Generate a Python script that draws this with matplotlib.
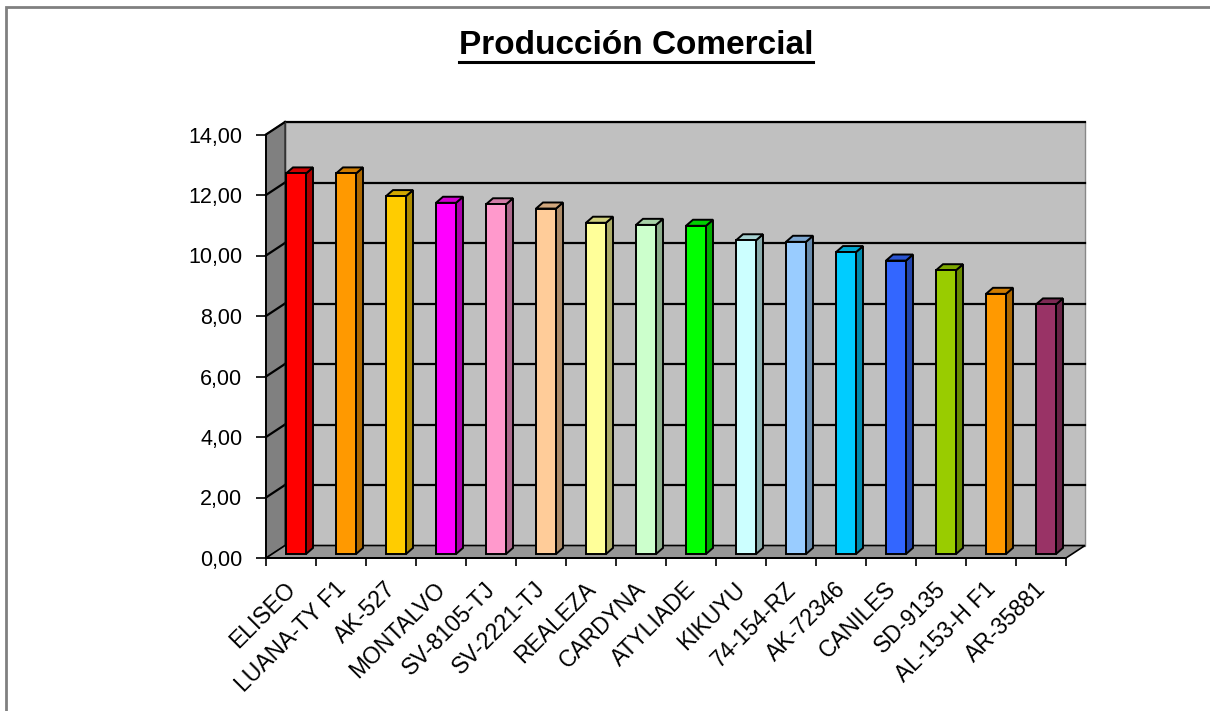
import matplotlib
matplotlib.use("Agg")
import matplotlib.pyplot as plt
from matplotlib.patches import Polygon, Rectangle
from matplotlib.lines import Line2D
from matplotlib import colors as mcolors
import numpy as np

plt.rcParams['font.family'] = ['Liberation Sans', 'DejaVu Sans']

variedades = ["ELISEO", "LUANA-TY F1", "AK-527", "MONTALVO", "SV-8105-TJ",
              "SV-2221-TJ", "REALEZA", "CARDYNA", "ATYLIADE", "KIKUYU",
              "74-154-RZ", "AK-72346", "CANILES", "SD-9135", "AL-153-H F1",
              "AR-35881"]
produccion = [12.58, 12.58, 11.83, 11.61, 11.56, 11.42, 10.95, 10.88,
              10.85, 10.37, 10.32, 9.98, 9.70, 9.38, 8.60, 8.25]
colores = ["#FF0000", "#FF9900", "#FFCC00", "#FF00FF", "#FF99CC", "#FFCC99",
           "#FFFF99", "#CCFFCC", "#00FF00", "#CCFFFF", "#99CCFF", "#00CCFF",
           "#3366FF", "#99CC00", "#FF9900", "#993366"]
yticks = [0, 2, 4, 6, 8, 10, 12, 14]

# fake 3d geometry (data units)
wall_dx, wall_dy = 0.38, 0.413      # depth of floor / back wall
bar_dx, bar_dy = 0.14, 0.2          # depth of each bar
bar_x0, bar_w, bar_base = -0.1, 0.4, 0.132
n = len(variedades)
x_lo, x_hi = -0.5, n - 0.5
ymax = 14


def shade(c, f):
    r, g, b = mcolors.to_rgb(c)
    return (r * f, g * f, b * f)


fig = plt.figure(figsize=(12.1, 7.11), dpi=100)
W, H = 1210, 711
ax = fig.add_axes([266 / W, (H - 558) / H, 800 / W, 423.5 / H])
ax.set_xlim(x_lo, x_hi)
ax.set_ylim(0, ymax)
ax.patch.set_alpha(0)

# walls
back = Polygon([(x_lo + wall_dx, wall_dy), (x_hi + wall_dx, wall_dy),
                (x_hi + wall_dx, ymax + wall_dy), (x_lo + wall_dx, ymax + wall_dy)],
               closed=True, facecolor="#C0C0C0", edgecolor="#888888", lw=1, zorder=0.5,
               clip_on=False)
ax.add_patch(back)
side = Polygon([(x_lo, 0), (x_lo + wall_dx, wall_dy), (x_lo + wall_dx, ymax + wall_dy),
                (x_lo, ymax)], closed=True, facecolor="#808080", edgecolor="#333333",
               lw=1, zorder=0.6, clip_on=False)
ax.add_patch(side)

# gridlines on back and side wall
for v in yticks[1:]:
    ax.plot([x_lo + wall_dx, x_hi + wall_dx], [v + wall_dy, v + wall_dy],
            color="black", lw=1.6, zorder=0.8, clip_on=False)
    ax.plot([x_lo, x_lo + wall_dx], [v, v + wall_dy],
            color="black", lw=1.6, zorder=0.8, clip_on=False)
ax.plot([x_lo + wall_dx, x_lo + wall_dx], [wall_dy, ymax + wall_dy],
        color="#333333", lw=1, zorder=0.9, clip_on=False)

floor = Polygon([(x_lo, 0), (x_hi, 0), (x_hi + wall_dx, wall_dy), (x_lo + wall_dx, wall_dy)],
                closed=True, facecolor="#969696", edgecolor="black", lw=1.2, zorder=1,
                clip_on=False)
ax.add_patch(floor)

# bars
for i, (v, c) in enumerate(zip(produccion, colores)):
    x0 = i + bar_x0
    x1 = x0 + bar_w
    top = bar_base + v
    ax.bar(x0, v, width=bar_w, bottom=bar_base, align="edge", color=c,
           edgecolor="black", lw=1.4, zorder=3 + i * 0.01, clip_on=False)
    ax.add_patch(Polygon([(x1, bar_base), (x1 + bar_dx, bar_base + bar_dy),
                          (x1 + bar_dx, top + bar_dy), (x1, top)], closed=True,
                         facecolor=shade(c, 0.68), edgecolor="black", lw=1.4,
                         zorder=2.9 + i * 0.01, clip_on=False))
    ax.add_patch(Polygon([(x0, top), (x1, top), (x1 + bar_dx, top + bar_dy),
                          (x0 + bar_dx, top + bar_dy)], closed=True,
                         facecolor=shade(c, 0.82), edgecolor="black", lw=1.4,
                         zorder=2.9 + i * 0.01, clip_on=False))

# axes
for s in ["top", "right"]:
    ax.spines[s].set_visible(False)
ax.spines["left"].set_linewidth(1.4)
ax.spines["bottom"].set_linewidth(1.4)
ax.spines["left"].set_zorder(5)
ax.spines["bottom"].set_zorder(5)

ax.set_yticks(yticks)
ax.set_yticklabels([("%.2f" % t).replace(".", ",") for t in yticks], fontsize=15.5)
ax.tick_params(axis="y", direction="out", length=7, width=1.2, pad=10)

ax.set_xticks(np.arange(n) + 0.02)
ax.set_xticklabels(variedades, fontsize=16.5, rotation=45, ha="right", va="center",
                   rotation_mode="anchor")
ax.tick_params(axis="x", which="major", length=0, pad=20)
ax.set_xticks(np.arange(n + 1) - 0.5, minor=True)
ax.tick_params(axis="x", which="minor", direction="out", length=6, width=1.2)

# title, underlined
t = fig.text(636 / W, 1 - 45 / H, "Producción Comercial", fontsize=24,
             fontweight="bold", ha="center", va="center")
fig.canvas.draw()
bb = t.get_window_extent(fig.canvas.get_renderer())
uy = bb.y0 - 1
fig.add_artist(Line2D([bb.x0 / W, bb.x1 / W], [uy / H, uy / H], color="black", lw=2.2))

# outer frame
fig.add_artist(Rectangle((6 / W, -0.1), 1.2, 1 - 7 / H + 0.1, fill=False,
                         edgecolor="#808080", lw=2))

fig.savefig("out.png", dpi=100)
